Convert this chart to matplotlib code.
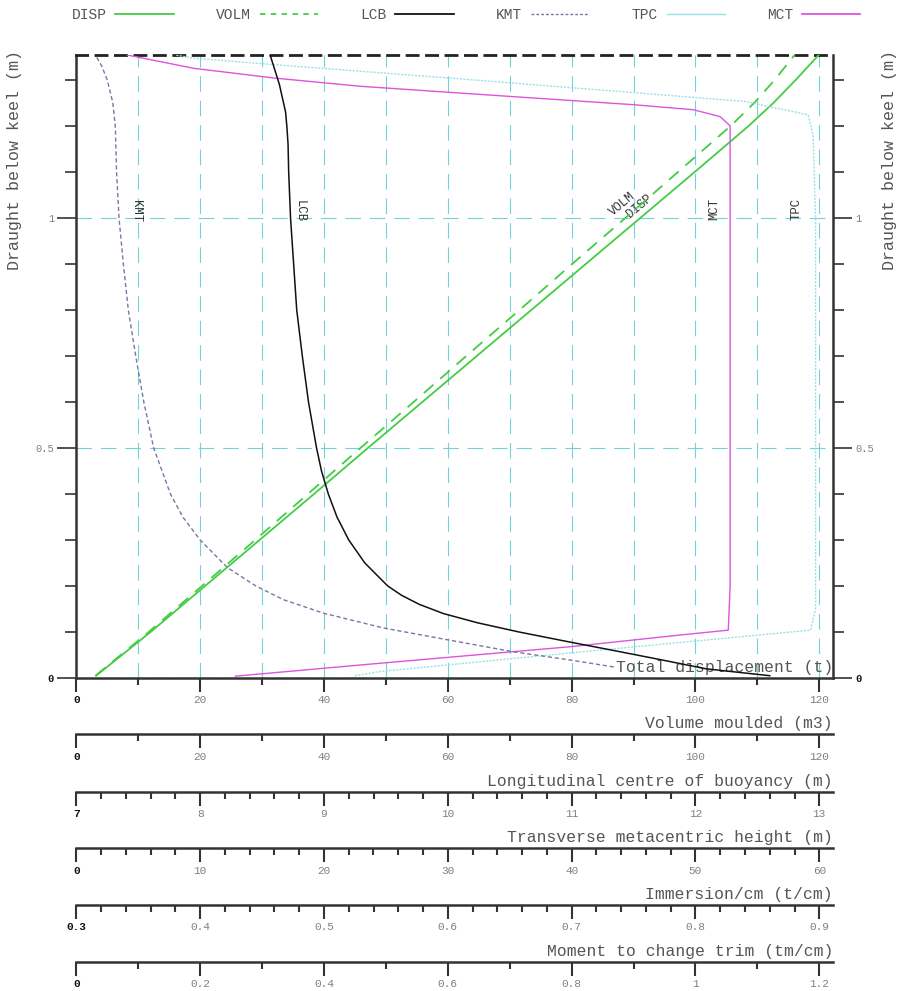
import numpy as np
import matplotlib
matplotlib.use("Agg")
from matplotlib import pyplot as plt
from matplotlib.lines import Line2D

plt.rcParams['font.family'] = ['Liberation Mono', 'DejaVu Sans Mono']

# ---- data ----
draught = [0.005, 0.1, 0.2, 0.3, 0.4, 0.5, 0.6, 0.7, 0.8, 0.9, 1.0, 1.1, 1.2, 1.25, 1.3, 1.354]
disp = [3.2, 12.0, 20.8, 29.6, 38.4, 47.1, 55.9, 64.7, 73.5, 82.3, 91.1, 99.9, 108.6, 112.6, 116.2, 119.9]
volm = [3.1, 11.7, 20.3, 28.9, 37.4, 45.9, 54.5, 63.0, 71.6, 80.1, 88.7, 97.2, 105.7, 109.5, 112.8, 116.0]

lcb_draught = [0.005, 0.02, 0.04, 0.06, 0.08, 0.10, 0.12, 0.14, 0.16, 0.18, 0.20, 0.25, 0.30,
               0.35, 0.40, 0.45, 0.50, 0.60, 0.70, 0.80, 0.90, 1.00, 1.10, 1.16, 1.20, 1.23,
               1.26, 1.29, 1.32, 1.354]
lcb = [12.6, 12.085, 11.715, 11.335, 10.95, 10.575, 10.24, 9.965, 9.77, 9.625, 9.515, 9.33, 9.2,
       9.105, 9.035, 8.98, 8.94, 8.875, 8.825, 8.78, 8.755, 8.73, 8.715, 8.71, 8.70, 8.69,
       8.665, 8.64, 8.605, 8.565]

kmt_draught = [0.024, 0.039, 0.057, 0.078, 0.109, 0.141, 0.17, 0.2, 0.24, 0.3, 0.35, 0.4, 0.5,
               0.6, 0.7, 0.8, 0.9, 1.0, 1.1, 1.2, 1.25, 1.3, 1.33, 1.354]
kmt = [43.4, 39.9, 35.3, 31.0, 24.75, 19.95, 16.75, 14.5, 12.2, 10.0, 8.6, 7.6, 6.25,
       5.45, 4.8, 4.2, 3.8, 3.45, 3.25, 3.15, 2.95, 2.5, 2.05, 1.55]

tpc_draught = [0.005, 0.014, 0.06, 0.104, 0.15, 0.6, 1.0, 1.18, 1.224, 1.253, 1.30, 1.333, 1.347, 1.354]
tpc = [0.525, 0.545, 0.72, 0.893, 0.897, 0.897, 0.897, 0.895, 0.891, 0.84, 0.62, 0.46, 0.395, 0.38]

mct_draught = [0.004, 0.032, 0.068, 0.0935, 0.104, 0.2, 0.6, 1.0, 1.2, 1.22, 1.235, 1.246,
               1.264, 1.286, 1.304, 1.325, 1.354]
mct = [0.257, 0.49, 0.798, 0.976, 1.053, 1.056, 1.056, 1.056, 1.056, 1.04, 0.997, 0.90,
       0.70, 0.459, 0.319, 0.19, 0.082]

# scales: name, start, end, major ticks, tick labels, minor step
scale_names = ['Total displacement (t)', 'Volume moulded (m3)',
               'Longitudinal centre of buoyancy (m)', 'Transverse metacentric height (m)',
               'Immersion/cm (t/cm)', 'Moment to change trim (tm/cm)']
scale_lo = [0, 0, 7, 0, 0.3, 0]
scale_hi = [120, 120, 13, 60, 0.9, 1.2]
scale_ticks = [[0, 20, 40, 60, 80, 100, 120], [0, 20, 40, 60, 80, 100, 120],
               [7, 8, 9, 10, 11, 12, 13], [0, 10, 20, 30, 40, 50, 60],
               [0.3, 0.4, 0.5, 0.6, 0.7, 0.8, 0.9], [0, 0.2, 0.4, 0.6, 0.8, 1.0, 1.2]]
scale_labels = [['0', '20', '40', '60', '80', '100', '120'], ['0', '20', '40', '60', '80', '100', '120'],
                ['7', '8', '9', '10', '11', '12', '13'], ['0', '10', '20', '30', '40', '50', '60'],
                ['0.3', '0.4', '0.5', '0.6', '0.7', '0.8', '0.9'], ['0', '0.2', '0.4', '0.6', '0.8', '1', '1.2']]
scale_minor = [10, 10, 0.2, 2, 0.02, 0.1]

y_ticks = [0, 0.5, 1]
y_labels = ['0', '0.5', '1']

W, H = 903, 991
fig = plt.figure(figsize=(W / 100, H / 100), dpi=100)

x0, x1 = 76.3, 833
ytop, ybot = 55, 678
frac = (x1 - x0) / 743.0  # visible width relative to one full scale
DARK = '#333333'
GREY = '#808080'
NAME = '#555555'


def fx(px):
    return px / W


def fy(py):
    return 1 - py / H


def lims(i):
    return scale_lo[i], scale_lo[i] + (scale_hi[i] - scale_lo[i]) * frac


def style_scale(a, i):
    a.set_xlim(*lims(i))
    a.set_xticks(scale_ticks[i])
    a.set_xticklabels(scale_labels[i])
    a.set_xticks(np.arange(scale_lo[i], scale_hi[i] + 1e-9, scale_minor[i]), minor=True)
    a.tick_params(axis='x', which='major', direction='out', length=10, width=1.5,
                  color=DARK, labelsize=8, labelcolor=GREY, pad=2.5)
    a.tick_params(axis='x', which='minor', direction='out', length=5, width=1.5, color=DARK)
    lab = a.get_xticklabels()[0]
    lab.set_fontweight('bold')
    lab.set_color('#111111')


ax = fig.add_axes([fx(x0), fy(ybot), fx(x1 - x0), (ybot - ytop) / H])
ax.set_ylim(0, 1.354)
style_scale(ax, 0)
ax.set_yticks(y_ticks)
ax.set_yticklabels(y_labels)
ax.set_yticks(np.arange(0, 1.35, 0.1), minor=True)
ax.tick_params(axis='y', which='major', direction='out', length=14, width=1.2, color=DARK,
               labelsize=7.5, labelcolor=GREY, pad=2, left=True, right=True,
               labelleft=True, labelright=True)
ax.tick_params(axis='y', which='minor', direction='out', length=8, width=1.2, color=DARK,
               left=True, right=True)
t0 = ax.yaxis.get_major_ticks()[0]
for lab in (t0.label1, t0.label2):
    lab.set_fontweight('bold')
    lab.set_color('#111111')
for sp in ['left', 'right', 'bottom']:
    ax.spines[sp].set_linewidth(1.8)
    ax.spines[sp].set_color(DARK)
ax.spines['top'].set_linestyle((0, (4, 3)))
ax.spines['top'].set_linewidth(2)
ax.spines['top'].set_color('#222222')

ax.grid(True, axis='x', which='both', color='#74d0da', lw=0.8, ls=(0, (14, 8)))
ax.grid(True, axis='y', which='major', color='#74d0da', lw=0.8, ls=(0, (14, 8)))
ax.set_axisbelow(True)
ax.text(1.0, 0.005, scale_names[0], transform=ax.transAxes, ha='right', va='bottom',
        fontsize=11.8, color=NAME)


def overlay(i):
    t = ax.twiny()
    t.set_xlim(*lims(i))
    t.set_axis_off()
    return t


# curves, each on an axes carrying its own scale
ax_disp = overlay(0)
ax_disp.plot(disp, draught, color='#44cc44', lw=1.3)
ax_volm = overlay(1)
ax_volm.plot(volm, draught, color='#44cc44', lw=1.3, ls=(0, (7, 5)))
ax_tpc = overlay(4)
ax_tpc.plot(tpc, tpc_draught, color='#99e0e6', lw=1.0, ls=(0, (1.5, 1)))
ax_mct = overlay(5)
ax_mct.plot(mct, mct_draught, color='#dd55dd', lw=1.0)
ax_kmt = overlay(3)
ax_kmt.plot(kmt, kmt_draught, color='#7777a0', lw=1.0, ls=(0, (3, 2)))
ax_lcb = overlay(2)
ax_lcb.plot(lcb, lcb_draught, color='#111111', lw=1.1)

# curve name tags
tag = dict(fontsize=8.8, color='#333333', ha='center', va='bottom')
ax.text(9.7, 0.99, 'KMT', rotation=270, **tag)
ax.text(36.0, 0.99, 'LCB', rotation=270, **tag)
ax.text(103.0, 0.995, 'MCT', rotation=90, **tag)
ax.text(116.3, 0.995, 'TPC', rotation=90, **tag)
ax.text(88.2, 1.0, 'VOLM', rotation=40, **tag)
ax.text(91.0, 0.995, 'DISP', rotation=40, **tag)

# secondary scale lines under the chart
scale_y = [734.3, 791.7, 848.3, 905, 961.7]
for k, py in enumerate(scale_y):
    i = k + 1
    s = fig.add_axes([fx(x0), fy(py), fx(x1 - x0), 0.0001])
    s.patch.set_visible(False)
    for sp in ['left', 'right', 'top']:
        s.spines[sp].set_visible(False)
    s.spines['bottom'].set_linewidth(1.8)
    s.spines['bottom'].set_color(DARK)
    s.set_yticks([])
    style_scale(s, i)
    fig.text(fx(x1), fy(py - 3), scale_names[i], ha='right', va='bottom', fontsize=11.8,
             color=NAME)

for px in [15, 890]:
    fig.text(fx(px), fy(160), 'Draught below keel (m)', rotation=90, ha='center',
             va='center', fontsize=12, color=NAME)

handles = [Line2D([], [], color='#44cc44', lw=1.3),
           Line2D([], [], color='#44cc44', lw=1.3, ls=(0, (3, 3))),
           Line2D([], [], color='#111111', lw=1.3),
           Line2D([], [], color='#7777a0', lw=1.0, ls=(0, (2, 1.5))),
           Line2D([], [], color='#99e0e6', lw=1.0),
           Line2D([], [], color='#dd55dd', lw=1.3)]
fig.legend(handles, ['DISP', 'VOLM', 'LCB', 'KMT', 'TPC', 'MCT'], ncol=6,
           loc='center', bbox_to_anchor=(fx(466), fy(15)), frameon=False,
           markerfirst=False, handlelength=4.0, columnspacing=2.9, handletextpad=0.6,
           prop={'size': 10.5}, labelcolor=NAME)

fig.savefig('out.png', dpi=100)
